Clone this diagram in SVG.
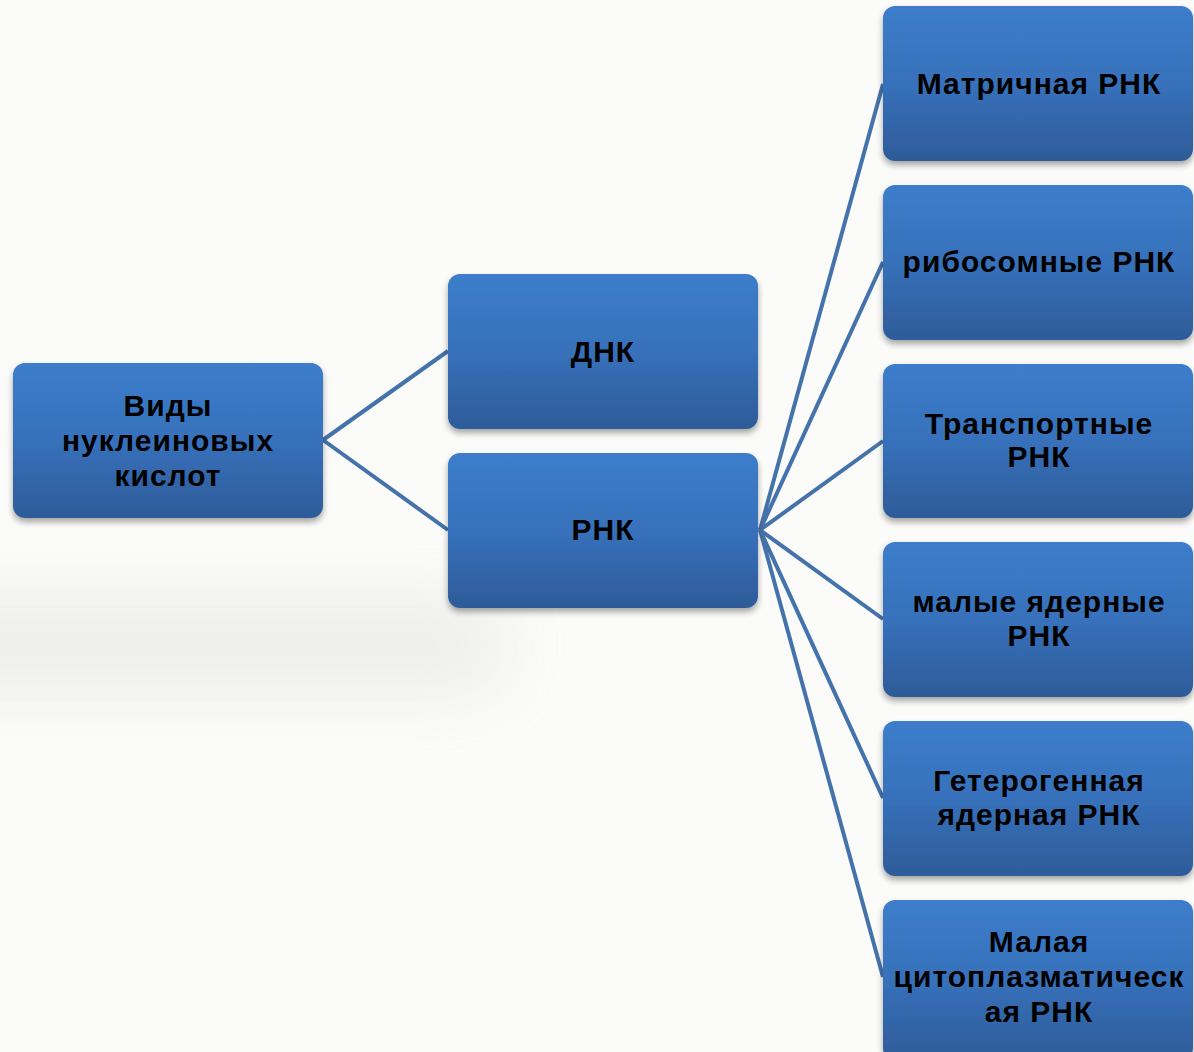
<svg xmlns="http://www.w3.org/2000/svg" width="1194" height="1052" viewBox="0 0 1194 1052">
<defs>
<linearGradient id="g" x1="0" y1="0" x2="0" y2="1">
<stop offset="0" stop-color="#3c7dcb"/>
<stop offset="0.5" stop-color="#3771bb"/>
<stop offset="1" stop-color="#2e5b98"/>
</linearGradient>
<filter id="sh" x="-10%" y="-10%" width="120%" height="130%">
<feGaussianBlur in="SourceAlpha" stdDeviation="3"/>
<feOffset dx="0" dy="4" result="b"/>
<feComponentTransfer><feFuncA type="linear" slope="0.35"/></feComponentTransfer>
<feMerge><feMergeNode/><feMergeNode in="SourceGraphic"/></feMerge>
</filter>
<filter id="blur" x="-50%" y="-150%" width="200%" height="400%"><feGaussianBlur stdDeviation="35"/></filter>
</defs>
<style>
.box{fill:url(#g);filter:url(#sh)}
.t{font-family:"Liberation Sans",Arial,sans-serif;font-weight:bold;font-size:30px;letter-spacing:1px;fill:#000;text-anchor:middle}
.c{stroke:#4472aa;stroke-width:4;fill:none}
</style>
<rect width="1194" height="1052" fill="#fbfbf9"/>
<rect x="-100" y="600" width="600" height="90" fill="#e6e6e4" filter="url(#blur)" opacity="0.7"/>
<g id="connectors">
<line class="c" x1="323" y1="440" x2="448" y2="351"/>
<line class="c" x1="323" y1="440" x2="448" y2="530"/>
<line class="c" x1="760" y1="530" x2="883" y2="84"/>
<line class="c" x1="760" y1="530" x2="883" y2="262"/>
<line class="c" x1="760" y1="530" x2="883" y2="441"/>
<line class="c" x1="760" y1="530" x2="883" y2="619"/>
<line class="c" x1="760" y1="530" x2="883" y2="798"/>
<line class="c" x1="760" y1="530" x2="883" y2="977"/>
</g>
<g id="root">
<rect class="box" x="13" y="363" width="310" height="155" rx="12"/>
<text class="t" x="168" y="416">Виды</text>
<text class="t" x="168" y="451">нуклеиновых</text>
<text class="t" x="168" y="486">кислот</text>
</g>
<g id="dnk">
<rect class="box" x="448" y="274" width="310" height="155" rx="12"/>
<text class="t" x="603" y="362">ДНК</text>
</g>
<g id="rnk">
<rect class="box" x="448" y="453" width="310" height="155" rx="12"/>
<text class="t" x="603" y="540">РНК</text>
</g>
<g id="mrnk">
<rect class="box" x="883" y="6" width="310" height="155" rx="12"/>
<text class="t" x="1039" y="94">Матричная РНК</text>
</g>
<g id="rrnk">
<rect class="box" x="883" y="185" width="310" height="155" rx="12"/>
<text class="t" x="1039" y="272">рибосомные РНК</text>
</g>
<g id="trnk">
<rect class="box" x="883" y="364" width="310" height="154" rx="12"/>
<text class="t" x="1039" y="434">Транспортные</text>
<text class="t" x="1039" y="467">РНК</text>
</g>
<g id="snrnk">
<rect class="box" x="883" y="542" width="310" height="155" rx="12"/>
<text class="t" x="1039" y="612">малые ядерные</text>
<text class="t" x="1039" y="646">РНК</text>
</g>
<g id="hnrnk">
<rect class="box" x="883" y="721" width="310" height="155" rx="12"/>
<text class="t" x="1039" y="791">Гетерогенная</text>
<text class="t" x="1039" y="825">ядерная РНК</text>
</g>
<g id="scrnk">
<rect class="box" x="883" y="900" width="310" height="160" rx="12"/>
<text class="t" x="1039" y="952">Малая</text>
<text class="t" x="1039" y="987">цитоплазматическ</text>
<text class="t" x="1039" y="1022">ая РНК</text>
</g>
</svg>
